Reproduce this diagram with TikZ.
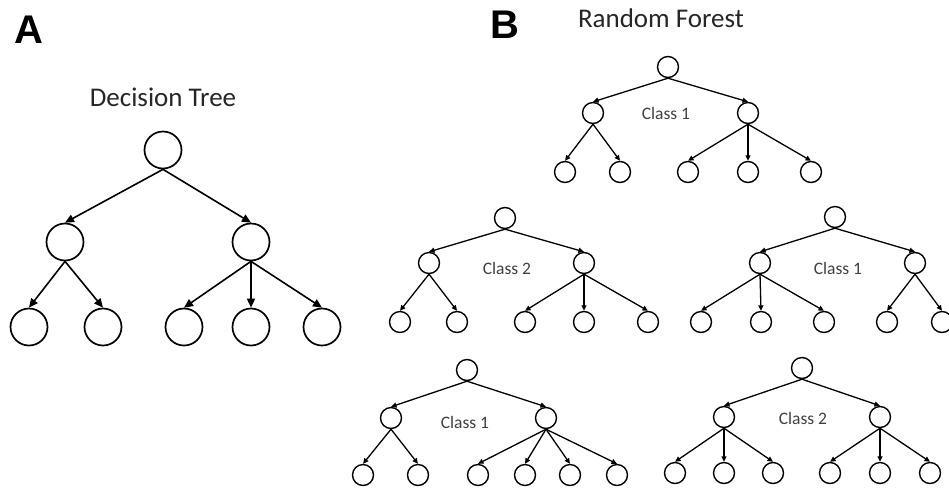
\documentclass[tikz,border=0pt]{standalone}
\usepackage{fontspec}
\setmainfont{Carlito}
\newfontfamily\labelfont{Liberation Sans}
\usetikzlibrary{arrows.meta}
\begin{document}
\begin{tikzpicture}[x=1pt,y=-1pt,
  dtnode/.style={circle,draw,line width=1.7pt,minimum size=37pt,inner sep=0pt},
  rfnode/.style={circle,draw,line width=1.4pt,minimum size=21pt,inner sep=0pt},
  dtedge/.style={line width=1.6pt,-{Triangle[length=9pt,width=8pt]}},
  rfedge/.style={line width=1.3pt,-{Triangle[length=5.5pt,width=5pt]}},
  panel/.style={font=\labelfont\bfseries\fontsize{40}{44}\selectfont,inner sep=0pt},
  title/.style={font=\fontsize{27}{30}\selectfont,text=black!85,inner sep=0pt},
  cls/.style={font=\fontsize{17.5}{20}\selectfont,text=black!75,inner sep=0pt}]
\useasboundingbox (0,0) rectangle (949,491);
\clip (0,0) rectangle (949,491);
% Panel A
\node[panel] (A) at (29,30) {A};
\node[title] (dtt) at (163,97) {Decision Tree};
\node[dtnode] (dr) at (163,150) {};
\node[dtnode] (da) at (65,242) {};
\node[dtnode] (db) at (251,242) {};
\node[dtnode] (da1) at (29,327) {};
\node[dtnode] (da2) at (103,327) {};
\node[dtnode] (db1) at (184,327) {};
\node[dtnode] (db2) at (251,327) {};
\node[dtnode] (db3) at (322,327) {};
\draw[dtedge] (dr.south) -- (da.north);
\draw[dtedge] (dr.south) -- (db.north);
\draw[dtedge] (da.south) -- (da1.north);
\draw[dtedge] (da.south) -- (da2.north);
\draw[dtedge] (db.south) -- (db1.north);
\draw[dtedge] (db.south) -- (db2.north);
\draw[dtedge] (db.south) -- (db3.north);
% Panel B
\node[panel] (B) at (505,25) {B};
\node[title] (rft) at (661,18) {Random Forest};
% Tree 1
\node[rfnode] (t1r) at (668,67) {};
\node[rfnode] (t1a) at (593,113) {};
\node[rfnode] (t1b) at (748,113) {};
\node[rfnode] (t1a1) at (565,172) {};
\node[rfnode] (t1a2) at (620,172) {};
\node[rfnode] (t1b1) at (688,172) {};
\node[rfnode] (t1b2) at (748,172) {};
\node[rfnode] (t1b3) at (811,172) {};
\node[cls] (c1) at (666,113) {Class 1};
\draw[rfedge] (t1r.south) -- (t1a.north);
\draw[rfedge] (t1r.south) -- (t1b.north);
\draw[rfedge] (t1a.south) -- (t1a1.north);
\draw[rfedge] (t1a.south) -- (t1a2.north);
\draw[rfedge] (t1b.south) -- (t1b1.north);
\draw[rfedge] (t1b.south) -- (t1b2.north);
\draw[rfedge] (t1b.south) -- (t1b3.north);
% Tree 2
\node[rfnode] (t2r) at (505,218) {};
\node[rfnode] (t2a) at (429,263) {};
\node[rfnode] (t2b) at (584,263) {};
\node[rfnode] (t2a1) at (400,322) {};
\node[rfnode] (t2a2) at (457,322) {};
\node[rfnode] (t2b1) at (525,322) {};
\node[rfnode] (t2b2) at (584,322) {};
\node[rfnode] (t2b3) at (648,322) {};
\node[cls] (c2) at (507,268) {Class 2};
\draw[rfedge] (t2r.south) -- (t2a.north);
\draw[rfedge] (t2r.south) -- (t2b.north);
\draw[rfedge] (t2a.south) -- (t2a1.north);
\draw[rfedge] (t2a.south) -- (t2a2.north);
\draw[rfedge] (t2b.south) -- (t2b1.north);
\draw[rfedge] (t2b.south) -- (t2b2.north);
\draw[rfedge] (t2b.south) -- (t2b3.north);
% Tree 3
\node[rfnode] (t3r) at (835,217) {};
\node[rfnode] (t3a) at (760,263) {};
\node[rfnode] (t3b) at (915,263) {};
\node[rfnode] (t3a1) at (701,322) {};
\node[rfnode] (t3a2) at (761,322) {};
\node[rfnode] (t3a3) at (824,322) {};
\node[rfnode] (t3b1) at (887,322) {};
\node[rfnode] (t3b2) at (942,322) {};
\node[cls] (c3) at (838,268) {Class 1};
\draw[rfedge] (t3r.south) -- (t3a.north);
\draw[rfedge] (t3r.south) -- (t3b.north);
\draw[rfedge] (t3a.south) -- (t3a1.north);
\draw[rfedge] (t3a.south) -- (t3a2.north);
\draw[rfedge] (t3a.south) -- (t3a3.north);
\draw[rfedge] (t3b.south) -- (t3b1.north);
\draw[rfedge] (t3b.south) -- (t3b2.north);
% Tree 4
\node[rfnode] (t4r) at (467,370) {};
\node[rfnode] (t4a) at (391,418) {};
\node[rfnode] (t4b) at (546,418) {};
\node[rfnode] (t4a1) at (363,475) {};
\node[rfnode] (t4a2) at (418,475) {};
\node[rfnode] (t4b1) at (478,475) {};
\node[rfnode] (t4b2) at (525,475) {};
\node[rfnode] (t4b3) at (570,475) {};
\node[rfnode] (t4b4) at (617,475) {};
\node[cls] (c4) at (465,422) {Class 1};
\draw[rfedge] (t4r.south) -- (t4a.north);
\draw[rfedge] (t4r.south) -- (t4b.north);
\draw[rfedge] (t4a.south) -- (t4a1.north);
\draw[rfedge] (t4a.south) -- (t4a2.north);
\draw[rfedge] (t4b.south) -- (t4b1.north);
\draw[rfedge] (t4b.south) -- (t4b2.north);
\draw[rfedge] (t4b.south) -- (t4b3.north);
\draw[rfedge] (t4b.south) -- (t4b4.north);
% Tree 5
\node[rfnode] (t5r) at (802,368) {};
\node[rfnode] (t5a) at (724,417) {};
\node[rfnode] (t5b) at (880,417) {};
\node[rfnode] (t5a1) at (675,473) {};
\node[rfnode] (t5a2) at (724,473) {};
\node[rfnode] (t5a3) at (773,473) {};
\node[rfnode] (t5b1) at (830,473) {};
\node[rfnode] (t5b2) at (880,473) {};
\node[rfnode] (t5b3) at (930,473) {};
\node[cls] (c5) at (803,418) {Class 2};
\draw[rfedge] (t5r.south) -- (t5a.north);
\draw[rfedge] (t5r.south) -- (t5b.north);
\draw[rfedge] (t5a.south) -- (t5a1.north);
\draw[rfedge] (t5a.south) -- (t5a2.north);
\draw[rfedge] (t5a.south) -- (t5a3.north);
\draw[rfedge] (t5b.south) -- (t5b1.north);
\draw[rfedge] (t5b.south) -- (t5b2.north);
\draw[rfedge] (t5b.south) -- (t5b3.north);
\end{tikzpicture}
\end{document}
